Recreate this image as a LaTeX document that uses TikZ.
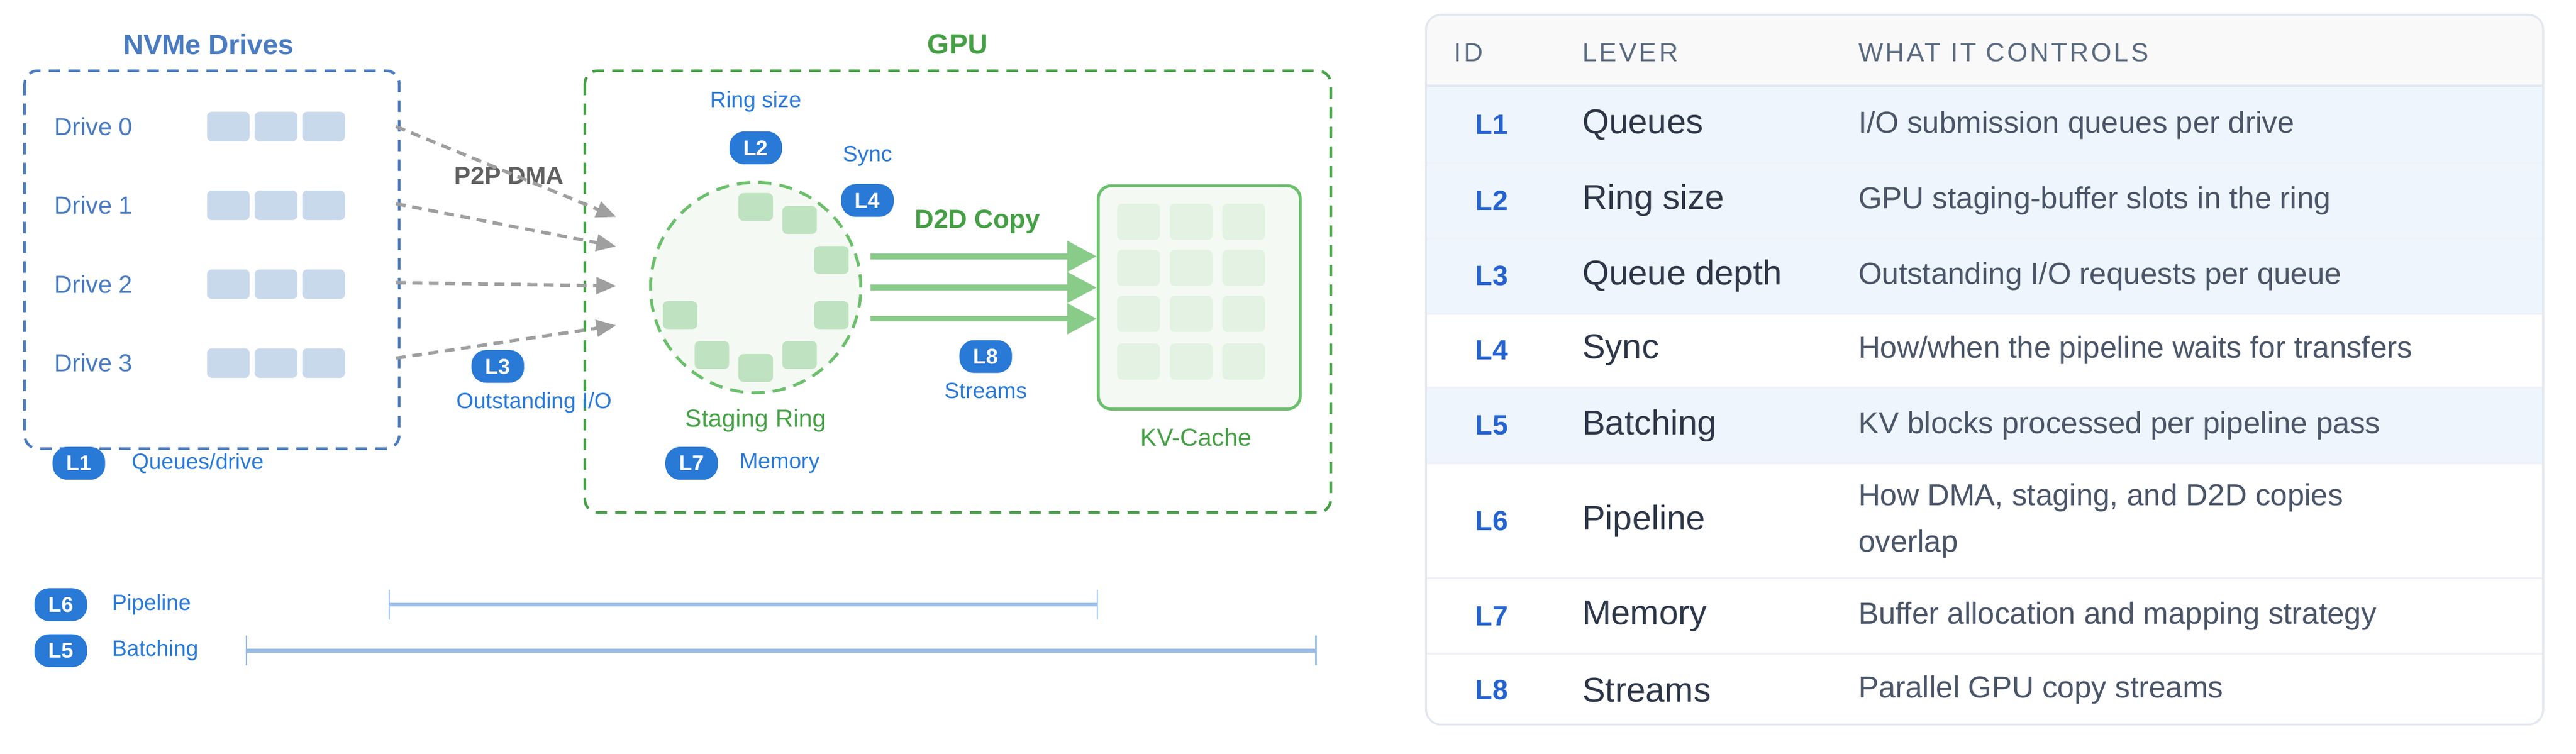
\documentclass[tikz,border=0pt]{standalone}
\usepackage{fontspec}
\setmainfont{Liberation Sans}
\usetikzlibrary{arrows.meta,positioning,calc}
\definecolor{nvblue}{HTML}{4A7BC0}
\definecolor{gpugreen}{HTML}{45A045}
\definecolor{ringgreen}{HTML}{6CBF6C}
\definecolor{palegreen}{HTML}{F4FAF3}
\definecolor{slotgreen}{HTML}{BFE3C0}
\definecolor{cellgreen}{HTML}{E3F2E3}
\definecolor{blockblue}{HTML}{C9D9EC}
\definecolor{badgeblue}{HTML}{2979D6}
\definecolor{barblue}{HTML}{9BBFEA}
\definecolor{idblue}{HTML}{2563D0}
\definecolor{headgray}{HTML}{5A6A80}
\definecolor{levergray}{HTML}{2D3748}
\definecolor{descgray}{HTML}{4A5568}
\definecolor{rowblue}{HTML}{EEF5FD}
\definecolor{linegray}{HTML}{E2E8F0}
\begin{document}
\begin{tikzpicture}[x=1pt,y=-1pt,
  badge/.style={fill=badgeblue,text=white,rounded corners=9pt,minimum width=32pt,minimum height=20pt,inner sep=0pt,font=\fontsize{13}{13}\selectfont\bfseries},
  lbl/.style={text=badgeblue,inner sep=0pt,font=\fontsize{13.5}{14}\selectfont},
  drivelbl/.style={text=nvblue,inner sep=0pt,anchor=west,font=\fontsize{15}{15}\selectfont},
  block/.style={fill=blockblue,rounded corners=3pt,minimum width=26pt,minimum height=18pt,inner sep=0pt},
  slot/.style={fill=slotgreen,rounded corners=3pt,minimum width=21pt,minimum height=17pt,inner sep=0pt},
  cell/.style={fill=cellgreen,rounded corners=3pt,minimum width=26pt,minimum height=22pt,inner sep=0pt},
  dmaarrow/.style={draw=gray!75,line width=2pt,dash pattern=on 6pt off 4pt,-{Triangle[length=12pt,width=10pt]}},
  copyarrow/.style={draw=ringgreen!80,line width=3.5pt,-{Triangle[length=18pt,width=18pt]}},
  span/.style={draw=barblue,line width=2.5pt},
  tick/.style={draw=barblue,line width=0.8pt},
  hdr/.style={text=headgray,anchor=west,inner sep=0pt,font=\fontsize{16}{16}\selectfont\addfontfeatures{LetterSpace=9}},
  idtxt/.style={text=idblue,inner sep=0pt,font=\fontsize{17}{17}\selectfont\bfseries},
  levertxt/.style={text=levergray,anchor=west,inner sep=0pt,font=\fontsize{21}{21}\selectfont},
  desctxt/.style={text=descgray,anchor=west,inner sep=0pt,align=left,font=\fontsize{18.5}{28}\selectfont}]
\useasboundingbox (0,0) rectangle (1568,458.6);
% NVMe drives
\node[text=nvblue,font=\fontsize{17}{17}\selectfont\bfseries] (nvtitle) at (127,27) {NVMe Drives};
\draw[nvblue,line width=1.6pt,dash pattern=on 7pt off 5pt,rounded corners=8pt] (15,43) rectangle (243,273);
\foreach \i/\y in {0/77,1/125,2/173,3/221}{
  \node[drivelbl] (d\i) at (33,\y) {Drive \i};
  \foreach \k in {0,1,2}
    \node[block] at (139+\k*29,\y) {};
}
\node[badge] (l1) at (48,282) {L1};
\node[lbl,anchor=west] (l1t) at (80,282) {Queues/drive};
% GPU
\node[text=gpugreen,font=\fontsize{17}{17}\selectfont\bfseries] (gputitle) at (583,27) {GPU};
\draw[gpugreen,line width=1.6pt,dash pattern=on 7pt off 5pt,rounded corners=8pt] (356,43) rectangle (810,312);
\node[circle,draw=ringgreen,fill=palegreen,line width=1.8pt,dash pattern=on 8pt off 5pt,minimum size=128pt,inner sep=0pt] (ring) at (460,175) {};
\foreach \a in {-90,-57,-20,20,57,90,123,160}
  \node[slot] at ($(ring.center)+(\a:49)$) {};
\node[lbl] (l2t) at (460,62) {Ring size};
\node[badge] (l2) at (460,90) {L2};
\node[lbl] (l4t) at (528,95) {Sync};
\node[badge] (l4) at (528,122) {L4};
\node[text=gpugreen,font=\fontsize{16}{16}\selectfont\bfseries] (copyt) at (595,135) {D2D Copy};
\node[badge] (l8) at (600,217) {L8};
\node[lbl] (l8t) at (600,238) {Streams};
\node[text=gpugreen,font=\fontsize{15}{15}\selectfont] (ringt) at (460,256) {Staging Ring};
\node[badge] (l7) at (421,282) {L7};
\node[lbl,anchor=west] (l7t) at (450,282) {Memory};
% KV cache
\node[draw=ringgreen,fill=palegreen,line width=1.8pt,rounded corners=8pt,minimum width=123pt,minimum height=136pt,inner sep=0pt] (kv) at (730,181) {};
\foreach \cx in {693,725,757}
  \foreach \cy in {135,163,191,220}
    \node[cell] at (\cx,\cy) {};
\node[text=gpugreen,font=\fontsize{15}{15}\selectfont] (kvt) at (728,266) {KV-Cache};
% P2P DMA arrows
\node[text=gray!75!black,font=\fontsize{15}{15}\selectfont\bfseries] (p2p) at (310,107) {P2P DMA};
\foreach \i/\ys/\ye in {0/77/132,1/124/150,2/172/174,3/218/198}{
  \coordinate (s\i) at (241,\ys);
  \coordinate (e\i) at (375,\ye);
  \draw[dmaarrow] (s\i) -- (e\i);
}
\node[badge] (l3) at (303,223) {L3};
\node[lbl] (l3t) at (325,245) {Outstanding I/O};
% D2D copy arrows
\foreach \y in {156,175,194}
  \draw[copyarrow] (530,\y) -- (kv.west |- 0,\y);
% pipeline spans
\node[badge] (l6) at (37,368) {L6};
\node[lbl,anchor=west] (l6t) at (68,368) {Pipeline};
\draw[span] (237,368) -- (668,368);
\draw[tick] (237,359) -- (237,377) (668,359) -- (668,377);
\node[badge] (l5) at (37,396) {L5};
\node[lbl,anchor=west] (l5t) at (68,396) {Batching};
\draw[span] (150,396) -- (801,396);
\draw[tick] (150,387) -- (150,405) (801,387) -- (801,405);
% table
\begin{scope}
\clip[rounded corners=9pt] (868,9) rectangle (1548,441);
\fill[white] (868,9) rectangle (1548,441);
\fill[gray!5] (868,9) rectangle (1548,52);
\fill[rowblue] (868,52) rectangle (1548,191);
\fill[rowblue] (868,236) rectangle (1548,282);
\draw[linegray,line width=1.5pt] (868,52) -- (1548,52);
\foreach \y in {99,145,191,236,282,352,398}
  \draw[linegray!60,line width=1pt] (868,\y) -- (1548,\y);
\end{scope}
\draw[linegray,line width=1.2pt,rounded corners=9pt] (868,9) rectangle (1548,441);
\node[hdr] (hid) at (885,32) {ID};
\node[hdr] (hlev) at (963,32) {LEVER};
\node[hdr] (hwhat) at (1131,32) {WHAT IT CONTROLS};
\foreach \n/\y/\lev/\desc in {
  1/76/Queues/{I/O submission queues per drive},
  2/122/Ring size/{GPU staging-buffer slots in the ring},
  3/168/Queue depth/{Outstanding I/O requests per queue},
  4/213/Sync/{How/when the pipeline waits for transfers},
  5/259/Batching/{KV blocks processed per pipeline pass},
  6/317/Pipeline/{How DMA, staging, and D2D copies\\overlap},
  7/375/Memory/{Buffer allocation and mapping strategy},
  8/420/Streams/{Parallel GPU copy streams}}{
  \node[idtxt] (id\n) at (908,\y) {L\n};
  \node[levertxt] (lev\n) at (963,\y) {\lev};
  \node[desctxt] (desc\n) at (1131,\y) {\desc};
}
\end{tikzpicture}
\end{document}
